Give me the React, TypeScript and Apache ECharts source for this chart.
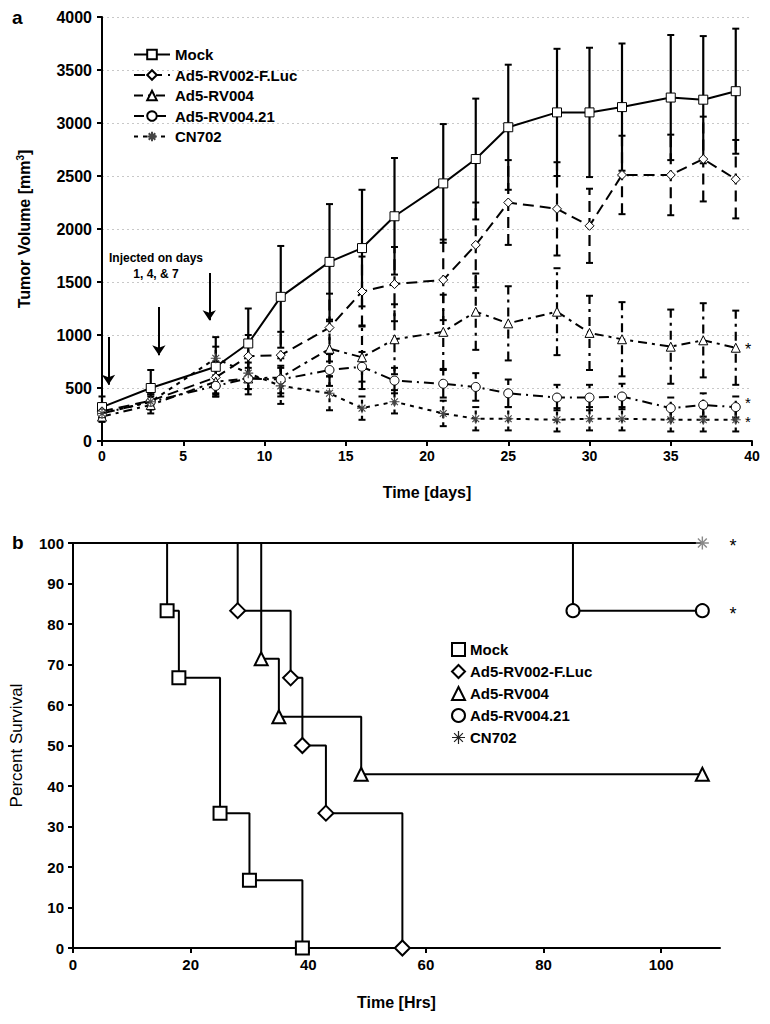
import React, { useEffect, useRef } from "react";
import * as echarts from "echarts";

const groupNames = ["Mock", "Ad5-RV002-F.Luc", "Ad5-RV004", "Ad5-RV004.21", "CN702"];

// Panel a: tumor volume (mm3) vs days
const days = [0, 3, 7, 9, 11, 14, 16, 18, 21, 23, 25, 28, 30, 32, 35, 37, 39];
const mockVol = [320, 500, 700, 920, 1360, 1690, 1820, 2120, 2430, 2660, 2960, 3100, 3100, 3150, 3240, 3220, 3300];
const mockSd = [100, 170, 280, 330, 480, 545, 550, 550, 560, 570, 590, 600, 610, 600, 590, 600, 590];
const rv002Vol = [280, 380, 600, 800, 810, 1070, 1410, 1480, 1520, 1850, 2250, 2190, 2030, 2510, 2510, 2660, 2470];
const rv002Sd = [60, 80, 150, 200, 220, 320, 330, 350, 380, 400, 400, 440, 350, 370, 380, 400, 370];
const rv004Vol = [230, 340, 560, 590, 600, 870, 790, 960, 1030, 1220, 1110, 1220, 1020, 960, 890, 950, 880];
const rv004Sd = [50, 80, 120, 150, 180, 260, 300, 330, 350, 360, 350, 410, 350, 350, 350, 350, 350];
const rv0421Vol = [260, 370, 520, 590, 580, 670, 700, 570, 540, 510, 450, 410, 410, 420, 310, 340, 320];
const rv0421Sd = [50, 70, 100, 100, 130, 150, 140, 120, 130, 130, 130, 120, 120, 120, 100, 110, 100];
const cn702Vol = [260, 370, 780, 640, 520, 450, 310, 370, 260, 210, 210, 200, 210, 210, 200, 200, 200];
const cn702Sd = [40, 70, 110, 150, 170, 160, 110, 110, 120, 110, 110, 110, 110, 110, 110, 110, 110];

// Injection arrows (day, from volume, to volume)
const arrowDays = [0.4, 3.5, 6.6];
const arrowFrom = [980, 1265, 1585];
const arrowTo = [530, 810, 1140];

// Panel b: Kaplan-Meier survival (time in hrs, percent)
const mockT = [0, 16, 18, 25, 30, 39];
const mockP = [100, 83.3, 66.7, 33.3, 16.7, 0];
const rv002T = [0, 28, 37, 39, 43, 56];
const rv002P = [100, 83.3, 66.7, 50, 33.3, 0];
const rv004T = [0, 32, 35, 49, 107];
const rv004P = [100, 71.4, 57.1, 42.9, 42.9];
const rv0421T = [0, 85, 107];
const rv0421P = [100, 83.3, 83.3];
const cn702T = [0, 107];
const cn702P = [100, 100];

const FONT = '"Liberation Sans", Arial, sans-serif';
const ASTER = "path://M5,0L5,10M0,5L10,5M1.6,1.6L8.4,8.4M8.4,1.6L1.6,8.4";

export default function App() {
  const ref = useRef<HTMLDivElement>(null);
  useEffect(() => {
    if (!ref.current) return;
    const chart = echarts.init(ref.current, null, { renderer: "svg" });

    const volSets = [
      { vol: mockVol, sd: mockSd, sym: "rect", dash: "solid" as any, sdDash: null as any },
      { vol: rv002Vol, sd: rv002Sd, sym: "diamond", dash: [11, 6], sdDash: [11, 6] },
      { vol: rv004Vol, sd: rv004Sd, sym: "triangle", dash: [9, 5, 3, 5], sdDash: [9, 5, 3, 5] },
      { vol: rv0421Vol, sd: rv0421Sd, sym: "circle", dash: [10, 5, 2, 5], sdDash: [10, 5, 2, 5] },
      { vol: cn702Vol, sd: cn702Sd, sym: ASTER, dash: [4, 5], sdDash: [4, 4] },
    ];

    const topLines: any[] = volSets.map((s, k) => ({
      type: "line",
      name: groupNames[k],
      xAxisIndex: 0,
      yAxisIndex: 0,
      data: days.map((d, i) => [d, s.vol[i]]),
      symbol: s.sym,
      symbolSize: k === 4 ? 10 : 9,
      showAllSymbol: true,
      z: 5 + k,
      lineStyle: { color: "#000", width: 2, type: s.dash },
      itemStyle: { color: "#fff", borderColor: k === 4 ? "#444" : "#000", borderWidth: k === 4 ? 1.1 : 1 },
      emphasis: { disabled: true },
      ...(k === 0
        ? {
            markLine: {
              silent: true,
              symbol: ["none", "arrow"],
              symbolSize: 10,
              label: { show: false },
              lineStyle: { color: "#000", width: 2, type: "solid" },
              data: arrowDays.map((d, i) => [{ coord: [d, arrowFrom[i]] }, { coord: [d, arrowTo[i]] }]),
            },
          }
        : {}),
    }));

    const errBars: any[] = volSets.map((s, k) => ({
      type: "custom",
      name: groupNames[k] + " SD",
      xAxisIndex: 0,
      yAxisIndex: 0,
      silent: true,
      z: 2,
      encode: { x: 0, y: [1, 2] },
      data: days.map((d, i) => [d, s.vol[i] - s.sd[i], s.vol[i] + s.sd[i]]),
      renderItem: (params: any, api: any) => {
        const lo = api.coord([api.value(0), api.value(1)]);
        const hi = api.coord([api.value(0), api.value(2)]);
        const st: any = { stroke: "#000", lineWidth: 2.2 };
        if (s.sdDash) st.lineDash = s.sdDash;
        return {
          type: "group",
          children: [
            { type: "line", shape: { x1: lo[0], y1: lo[1], x2: hi[0], y2: hi[1] }, style: st },
            { type: "line", shape: { x1: hi[0] - 3.5, y1: hi[1], x2: hi[0] + 3.5, y2: hi[1] }, style: { stroke: "#000", lineWidth: 2 } },
            { type: "line", shape: { x1: lo[0] - 3.5, y1: lo[1], x2: lo[0] + 3.5, y2: lo[1] }, style: { stroke: "#000", lineWidth: 2 } },
          ],
        };
      },
    }));

    const survSets = [
      { t: mockT, p: mockP, sym: "rect" },
      { t: rv002T, p: rv002P, sym: "diamond" },
      { t: rv004T, p: rv004P, sym: "triangle" },
      { t: rv0421T, p: rv0421P, sym: "circle" },
      { t: cn702T, p: cn702P, sym: ASTER },
    ];
    const survLines: any[] = survSets.map((s, k) => ({
      type: "line",
      name: groupNames[k],
      xAxisIndex: 1,
      yAxisIndex: 1,
      step: "end",
      showAllSymbol: true,
      symbolSize: k === 1 ? 15 : 13,
      z: 5 + k,
      data: s.t.map((t, i) => ({ value: [t, s.p[i]], symbol: i === 0 ? "none" : s.sym })),
      lineStyle: { color: "#000", width: 2 },
      itemStyle: { color: "#fff", borderColor: k === 4 ? "#8a8a8a" : "#000", borderWidth: k === 4 ? 1.4 : 2 },
      emphasis: { disabled: true },
    }));

    const axisLineStyle = { lineStyle: { color: "#000", width: 2 } };
    const plain = (v: number) => String(v);

    chart.setOption({
      animation: false,
      textStyle: { fontFamily: FONT },
      grid: [
        { left: 102, top: 17, width: 650, height: 424 },
        { left: 73, top: 543, width: 647, height: 405 },
      ],
      xAxis: [
        {
          type: "value",
          gridIndex: 0,
          min: 0,
          max: 40,
          interval: 5,
          axisLine: { show: true, ...axisLineStyle },
          axisTick: { show: true, length: 5, lineStyle: { color: "#000", width: 2 } },
          axisLabel: { color: "#000", fontSize: 14, fontWeight: "bold", margin: 8, fontFamily: FONT, formatter: plain },
          splitLine: { show: false },
          name: "Time [days]",
          nameLocation: "middle",
          nameGap: 43,
          nameTextStyle: { color: "#000", fontSize: 16, fontWeight: "bold", fontFamily: FONT },
        },
        {
          type: "value",
          gridIndex: 1,
          min: 0,
          max: 110,
          interval: 10,
          axisLine: { show: true, onZero: false, ...axisLineStyle },
          axisTick: { show: true, length: 5, customValues: [0, 20, 40, 60, 80, 100], lineStyle: { color: "#000", width: 2 } },
          axisLabel: { color: "#000", fontSize: 15, fontWeight: "bold", margin: 9, customValues: [0, 20, 40, 60, 80, 100], fontFamily: FONT, formatter: plain },
          splitLine: { show: false },
          name: "Time [Hrs]",
          nameLocation: "middle",
          nameGap: 46,
          nameTextStyle: { color: "#000", fontSize: 16, fontWeight: "bold", fontFamily: FONT },
        },
      ],
      yAxis: [
        {
          type: "value",
          gridIndex: 0,
          min: 0,
          max: 4000,
          interval: 500,
          axisLine: { show: true, ...axisLineStyle },
          axisTick: { show: true, length: 5, lineStyle: { color: "#000", width: 2 } },
          axisLabel: { color: "#000", fontSize: 16, fontWeight: "bold", margin: 10, fontFamily: FONT, formatter: plain },
          splitLine: { show: true, lineStyle: { color: "#c8c8c8", type: [2, 3], width: 1 } },
          name: "Tumor Volume [mm{sup|3}]",
          nameLocation: "middle",
          nameGap: 69,
          nameTextStyle: {
            color: "#000",
            fontSize: 16,
            fontWeight: "bold",
            fontFamily: FONT,
            rich: { sup: { fontSize: 10, fontWeight: "bold", verticalAlign: "top", padding: [0, 0, 8, 0], fontFamily: FONT } },
          },
        },
        {
          type: "value",
          gridIndex: 1,
          min: 0,
          max: 100,
          interval: 10,
          axisLine: { show: true, ...axisLineStyle },
          axisTick: { show: true, length: 5, lineStyle: { color: "#000", width: 2 } },
          axisLabel: { color: "#000", fontSize: 15, fontWeight: "bold", margin: 9, fontFamily: FONT, formatter: plain },
          splitLine: { show: false },
          name: "Percent Survival",
          nameLocation: "middle",
          nameGap: 48,
          nameTextStyle: { color: "#000", fontSize: 17, fontFamily: FONT },
        },
      ],
      legend: [
        {
          orient: "vertical",
          left: 128,
          top: 42,
          itemWidth: 36,
          itemHeight: 12,
          itemGap: 5.5,
          selectedMode: false,
          data: groupNames,
          textStyle: { color: "#000", fontSize: 15, fontWeight: "bold", fontFamily: FONT },
        },
        {
          orient: "vertical",
          left: 446,
          top: 637,
          itemWidth: 13,
          itemHeight: 13,
          itemGap: 7,
          selectedMode: false,
          itemStyle: { color: "#fff", borderColor: "#000", borderWidth: 2 },
          data: [
            { name: groupNames[0], icon: "rect" },
            { name: groupNames[1], icon: "diamond" },
            { name: groupNames[2], icon: "triangle" },
            { name: groupNames[3], icon: "circle" },
            { name: groupNames[4], icon: ASTER, itemStyle: { borderWidth: 1.2, borderColor: "#222" } },
          ],
          textStyle: { color: "#000", fontSize: 15, fontWeight: "bold", fontFamily: FONT },
        },
      ],
      graphic: [
        { type: "text", left: 12, top: 8, style: { text: "a", font: `bold 19px ${FONT}`, fill: "#000" } },
        { type: "text", left: 12, top: 533, style: { text: "b", font: `bold 19px ${FONT}`, fill: "#000" } },
        { type: "text", x: 156, y: 258, style: { text: "Injected on days", font: `bold 12px ${FONT}`, fill: "#000", align: "center", verticalAlign: "middle" } },
        { type: "text", x: 156, y: 274, style: { text: "1, 4, & 7", font: `bold 12px ${FONT}`, fill: "#000", align: "center", verticalAlign: "middle" } },
        { type: "text", x: 748, y: 349, style: { text: "*", font: `16px ${FONT}`, fill: "#000", align: "center", verticalAlign: "middle" } },
        { type: "text", x: 748, y: 402, style: { text: "*", font: `15px ${FONT}`, fill: "#000", align: "center", verticalAlign: "middle" } },
        { type: "text", x: 748, y: 421, style: { text: "*", font: `15px ${FONT}`, fill: "#000", align: "center", verticalAlign: "middle" } },
        { type: "text", x: 733, y: 546, style: { text: "*", font: `18px ${FONT}`, fill: "#000", align: "center", verticalAlign: "middle" } },
        { type: "text", x: 733, y: 614, style: { text: "*", font: `18px ${FONT}`, fill: "#000", align: "center", verticalAlign: "middle" } },
      ],
      series: [...errBars, ...topLines, ...survLines],
    });
    return () => chart.dispose();
  }, []);
  return <div ref={ref} style={{ position: "absolute", left: 0, top: 0, width: 770, height: 1024, background: "#fff" }} />;
}
